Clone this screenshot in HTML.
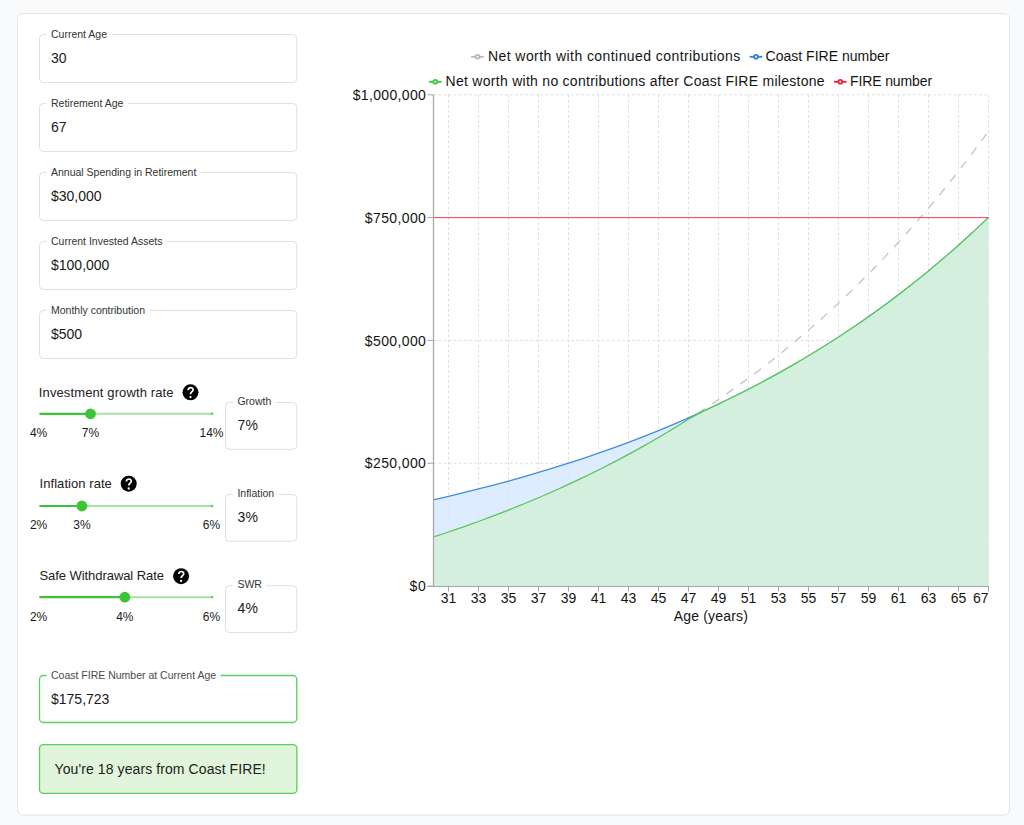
<!DOCTYPE html><html><head><meta charset="utf-8"><style>html,body{margin:0;padding:0;background:#f8fafc;width:1024px;height:825px;overflow:hidden}svg{display:block;font-family:"Liberation Sans",sans-serif}</style></head><body>
<svg width="1024" height="825" viewBox="0 0 1024 825">
<rect x="17.5" y="13.5" width="992" height="801.5" rx="5" fill="#fff" stroke="#e4e4e4"/>
<rect x="39.5" y="34.5" width="257.3" height="48.0" rx="4" fill="#fff" stroke="#dfdfdf"/>
<rect x="46.5" y="32.5" width="65.0296875" height="4" fill="#fff"/>
<text x="51.0" y="37.7" font-size="10.5" fill="#333">Current Age</text>
<text x="51.0" y="62.6" font-size="14" fill="#1a1a1a">30</text>
<rect x="39.5" y="103.5" width="257.3" height="48.0" rx="4" fill="#fff" stroke="#dfdfdf"/>
<rect x="46.5" y="101.5" width="81.36875" height="4" fill="#fff"/>
<text x="51.0" y="106.7" font-size="10.5" fill="#333">Retirement Age</text>
<text x="51.0" y="131.6" font-size="14" fill="#1a1a1a">67</text>
<rect x="39.5" y="172.5" width="257.3" height="48.0" rx="4" fill="#fff" stroke="#dfdfdf"/>
<rect x="46.5" y="170.5" width="154.3359375" height="4" fill="#fff"/>
<text x="51.0" y="175.7" font-size="10.5" fill="#333">Annual Spending in Retirement</text>
<text x="51.0" y="200.6" font-size="14" fill="#1a1a1a">$30,000</text>
<rect x="39.5" y="241.5" width="257.3" height="48.0" rx="4" fill="#fff" stroke="#dfdfdf"/>
<rect x="46.5" y="239.5" width="120.465625" height="4" fill="#fff"/>
<text x="51.0" y="244.7" font-size="10.5" fill="#333">Current Invested Assets</text>
<text x="51.0" y="269.6" font-size="14" fill="#1a1a1a">$100,000</text>
<rect x="39.5" y="310.5" width="257.3" height="48.0" rx="4" fill="#fff" stroke="#dfdfdf"/>
<rect x="46.5" y="308.5" width="102.9625" height="4" fill="#fff"/>
<text x="51.0" y="313.7" font-size="10.5" fill="#333">Monthly contribution</text>
<text x="51.0" y="338.6" font-size="14" fill="#1a1a1a">$500</text>
<text x="38.8" y="396.6" font-size="13" fill="#222" textLength="134.73" lengthAdjust="spacing">Investment growth rate</text>
<circle cx="190.5" cy="392.3" r="8" fill="#000"/>
<path d="M188.20,390.20 C188.20,386.80 193.10,386.80 193.10,389.90 C193.10,391.70 190.50,391.80 190.50,394.20" fill="none" stroke="#fff" stroke-width="1.7"/>
<circle cx="190.5" cy="397.10" r="1.15" fill="#fff"/>
<line x1="90.47999999999999" y1="413.8" x2="211.1" y2="413.8" stroke="#a6e3a6" stroke-width="1.9"/>
<line x1="40.2" y1="413.8" x2="90.47999999999999" y2="413.8" stroke="#3ac436" stroke-width="2.2" stroke-linecap="round"/>
<rect x="210.79999999999998" y="412.7" width="2.4" height="2.2" fill="#5fcf5f"/>
<circle cx="90.48" cy="413.8" r="5.4" fill="#3ac436"/>
<text x="38.6" y="436.5" font-size="12" fill="#1a1a1a" text-anchor="middle">4%</text>
<text x="90.48" y="436.5" font-size="12" fill="#1a1a1a" text-anchor="middle">7%</text>
<text x="211.5" y="436.5" font-size="12" fill="#1a1a1a" text-anchor="middle">14%</text>
<rect x="225.5" y="402.5" width="71.30000000000001" height="46.80000000000001" rx="4" fill="#fff" stroke="#dfdfdf"/>
<rect x="232.9" y="400.5" width="42.8421875" height="4" fill="#fff"/>
<text x="237.4" y="405.1" font-size="10.5" fill="#333">Growth</text>
<text x="237.6" y="430.1" font-size="14" fill="#1a1a1a">7%</text>
<text x="39.5" y="487.7" font-size="13" fill="#222" textLength="72.35" lengthAdjust="spacing">Inflation rate</text>
<circle cx="128.7" cy="483.7" r="8" fill="#000"/>
<path d="M126.40,481.60 C126.40,478.20 131.30,478.20 131.30,481.30 C131.30,483.10 128.70,483.20 128.70,485.60" fill="none" stroke="#fff" stroke-width="1.7"/>
<circle cx="128.7" cy="488.50" r="1.15" fill="#fff"/>
<line x1="81.9" y1="506.0" x2="211.1" y2="506.0" stroke="#a6e3a6" stroke-width="1.9"/>
<line x1="40.2" y1="506.0" x2="81.9" y2="506.0" stroke="#3ac436" stroke-width="2.2" stroke-linecap="round"/>
<rect x="210.79999999999998" y="504.9" width="2.4" height="2.2" fill="#5fcf5f"/>
<circle cx="81.90" cy="506.0" r="5.4" fill="#3ac436"/>
<text x="38.6" y="529.1" font-size="12" fill="#1a1a1a" text-anchor="middle">2%</text>
<text x="81.9" y="529.1" font-size="12" fill="#1a1a1a" text-anchor="middle">3%</text>
<text x="211.5" y="529.1" font-size="12" fill="#1a1a1a" text-anchor="middle">6%</text>
<rect x="225.5" y="494.5" width="71.30000000000001" height="46.799999999999955" rx="4" fill="#fff" stroke="#dfdfdf"/>
<rect x="232.9" y="492.5" width="45.7734375" height="4" fill="#fff"/>
<text x="237.4" y="497.1" font-size="10.5" fill="#333">Inflation</text>
<text x="237.6" y="522.1" font-size="14" fill="#1a1a1a">3%</text>
<text x="39.5" y="579.7" font-size="13" fill="#222" textLength="124.52" lengthAdjust="spacing">Safe Withdrawal Rate</text>
<circle cx="181.1" cy="576.2" r="8" fill="#000"/>
<path d="M178.80,574.10 C178.80,570.70 183.70,570.70 183.70,573.80 C183.70,575.60 181.10,575.70 181.10,578.10" fill="none" stroke="#fff" stroke-width="1.7"/>
<circle cx="181.1" cy="581.00" r="1.15" fill="#fff"/>
<line x1="124.8" y1="597.2" x2="211.1" y2="597.2" stroke="#a6e3a6" stroke-width="1.9"/>
<line x1="40.2" y1="597.2" x2="124.8" y2="597.2" stroke="#3ac436" stroke-width="2.2" stroke-linecap="round"/>
<rect x="210.79999999999998" y="596.1" width="2.4" height="2.2" fill="#5fcf5f"/>
<circle cx="124.80" cy="597.2" r="5.4" fill="#3ac436"/>
<text x="38.6" y="620.5" font-size="12" fill="#1a1a1a" text-anchor="middle">2%</text>
<text x="124.8" y="620.5" font-size="12" fill="#1a1a1a" text-anchor="middle">4%</text>
<text x="211.5" y="620.5" font-size="12" fill="#1a1a1a" text-anchor="middle">6%</text>
<rect x="225.5" y="585.7" width="71.30000000000001" height="46.799999999999955" rx="4" fill="#fff" stroke="#dfdfdf"/>
<rect x="232.9" y="583.7" width="33.496875" height="4" fill="#fff"/>
<text x="237.4" y="588.3" font-size="10.5" fill="#333">SWR</text>
<text x="237.6" y="613.3" font-size="14" fill="#1a1a1a">4%</text>
<rect x="39.5" y="675.5" width="257.3" height="47.0" rx="4" fill="#fff" stroke="#5ccf5c" stroke-width="1.35"/>
<rect x="46.5" y="673.5" width="174.14375" height="4" fill="#fff"/>
<text x="51.0" y="678.8" font-size="10.5" fill="#4a4a4a">Coast FIRE Number at Current Age</text>
<text x="51.0" y="703.5" font-size="14" fill="#1a1a1a">$175,723</text>
<rect x="39.5" y="744.6" width="257.4" height="48.8" rx="4" fill="#e0f5dc" stroke="#5ccf5c" stroke-width="1.35"/>
<text x="54.5" y="774.2" font-size="14" fill="#222" textLength="211.25" lengthAdjust="spacing">You're 18 years from Coast FIRE!</text>
<line x1="433.5" y1="94.80" x2="988.5" y2="94.80" stroke="#dcdcdc" stroke-dasharray="2.55 2.55"/>
<line x1="433.5" y1="217.63" x2="988.5" y2="217.63" stroke="#dcdcdc" stroke-dasharray="2.55 2.55"/>
<line x1="433.5" y1="340.45" x2="988.5" y2="340.45" stroke="#dcdcdc" stroke-dasharray="2.55 2.55"/>
<line x1="433.5" y1="463.28" x2="988.5" y2="463.28" stroke="#dcdcdc" stroke-dasharray="2.55 2.55"/>
<line x1="448.5" y1="94.80" x2="448.5" y2="586.1" stroke="#dcdcdc" stroke-dasharray="2.55 2.55"/>
<line x1="478.5" y1="94.80" x2="478.5" y2="586.1" stroke="#dcdcdc" stroke-dasharray="2.55 2.55"/>
<line x1="508.5" y1="94.80" x2="508.5" y2="586.1" stroke="#dcdcdc" stroke-dasharray="2.55 2.55"/>
<line x1="538.5" y1="94.80" x2="538.5" y2="586.1" stroke="#dcdcdc" stroke-dasharray="2.55 2.55"/>
<line x1="568.5" y1="94.80" x2="568.5" y2="586.1" stroke="#dcdcdc" stroke-dasharray="2.55 2.55"/>
<line x1="598.5" y1="94.80" x2="598.5" y2="586.1" stroke="#dcdcdc" stroke-dasharray="2.55 2.55"/>
<line x1="628.5" y1="94.80" x2="628.5" y2="586.1" stroke="#dcdcdc" stroke-dasharray="2.55 2.55"/>
<line x1="658.5" y1="94.80" x2="658.5" y2="586.1" stroke="#dcdcdc" stroke-dasharray="2.55 2.55"/>
<line x1="688.5" y1="94.80" x2="688.5" y2="586.1" stroke="#dcdcdc" stroke-dasharray="2.55 2.55"/>
<line x1="718.5" y1="94.80" x2="718.5" y2="586.1" stroke="#dcdcdc" stroke-dasharray="2.55 2.55"/>
<line x1="748.5" y1="94.80" x2="748.5" y2="586.1" stroke="#dcdcdc" stroke-dasharray="2.55 2.55"/>
<line x1="778.5" y1="94.80" x2="778.5" y2="586.1" stroke="#dcdcdc" stroke-dasharray="2.55 2.55"/>
<line x1="808.5" y1="94.80" x2="808.5" y2="586.1" stroke="#dcdcdc" stroke-dasharray="2.55 2.55"/>
<line x1="838.5" y1="94.80" x2="838.5" y2="586.1" stroke="#dcdcdc" stroke-dasharray="2.55 2.55"/>
<line x1="868.5" y1="94.80" x2="868.5" y2="586.1" stroke="#dcdcdc" stroke-dasharray="2.55 2.55"/>
<line x1="898.5" y1="94.80" x2="898.5" y2="586.1" stroke="#dcdcdc" stroke-dasharray="2.55 2.55"/>
<line x1="928.5" y1="94.80" x2="928.5" y2="586.1" stroke="#dcdcdc" stroke-dasharray="2.55 2.55"/>
<line x1="958.5" y1="94.80" x2="958.5" y2="586.1" stroke="#dcdcdc" stroke-dasharray="2.55 2.55"/>
<line x1="988.5" y1="94.80" x2="988.5" y2="586.1" stroke="#dcdcdc" stroke-dasharray="2.55 2.55"/>
<path d="M433.50,499.77 C438.50,498.63 443.50,497.49 448.50,496.31 C453.50,495.14 458.50,493.94 463.50,492.72 C468.50,491.50 473.50,490.26 478.50,488.99 C483.50,487.72 488.50,486.42 493.50,485.10 C498.50,483.78 503.50,482.44 508.50,481.06 C513.50,479.69 518.50,478.29 523.50,476.86 C528.50,475.43 533.50,473.98 538.50,472.49 C543.50,471.01 548.50,469.49 553.50,467.95 C558.50,466.40 563.50,464.83 568.50,463.22 C573.50,461.62 578.50,459.98 583.50,458.31 C588.50,456.64 593.50,454.93 598.50,453.20 C603.50,451.46 608.50,449.69 613.50,447.88 C618.50,446.07 623.50,444.23 628.50,442.35 C633.50,440.47 638.50,438.55 643.50,436.60 C648.50,434.64 653.50,432.65 658.50,430.62 C663.50,428.59 668.50,426.52 673.50,424.40 C678.50,422.29 683.50,420.13 688.50,417.93 C693.50,415.73 698.50,413.49 703.50,411.21 C708.50,408.92 713.50,406.59 718.50,404.21 C723.50,401.83 728.50,399.41 733.50,396.93 C738.50,394.46 743.50,391.94 748.50,389.37 C753.50,386.80 758.50,384.17 763.50,381.50 C768.50,378.82 773.50,376.10 778.50,373.31 C783.50,370.53 788.50,367.70 793.50,364.80 C798.50,361.91 803.50,358.96 808.50,355.95 C813.50,352.94 818.50,349.88 823.50,346.75 C828.50,343.62 833.50,340.43 838.50,337.17 C843.50,333.92 848.50,330.60 853.50,327.21 C858.50,323.83 863.50,320.38 868.50,316.86 C873.50,313.34 878.50,309.75 883.50,306.09 C888.50,302.43 893.50,298.70 898.50,294.89 C903.50,291.08 908.50,287.20 913.50,283.24 C918.50,279.28 923.50,275.24 928.50,271.13 C933.50,267.01 938.50,262.81 943.50,258.53 C948.50,254.24 953.50,249.88 958.50,245.42 C963.50,240.97 968.50,236.43 973.50,231.80 C978.50,227.16 983.50,222.39 988.50,217.63 L988.50,586.10 L433.50,586.10 Z" fill="#d4e7fe" fill-opacity="0.8" stroke="none"/>
<path d="M433.50,536.97 C438.50,535.33 443.50,533.69 448.50,532.00 C453.50,530.31 458.50,528.59 463.50,526.84 C468.50,525.08 473.50,523.29 478.50,521.47 C483.50,519.64 488.50,517.78 493.50,515.88 C498.50,513.98 503.50,512.04 508.50,510.07 C513.50,508.09 518.50,506.08 523.50,504.03 C528.50,501.97 533.50,499.88 538.50,497.74 C543.50,495.61 548.50,493.43 553.50,491.21 C558.50,488.98 563.50,486.72 568.50,484.41 C573.50,482.10 578.50,479.74 583.50,477.34 C588.50,474.94 593.50,472.49 598.50,469.99 C603.50,467.49 608.50,464.94 613.50,462.34 C618.50,459.74 623.50,457.09 628.50,454.39 C633.50,451.69 638.50,448.93 643.50,446.12 C648.50,443.31 653.50,440.44 658.50,437.52 C663.50,434.60 668.50,431.62 673.50,428.57 C678.50,425.53 683.50,422.44 688.50,419.27 C693.50,416.11 698.50,412.89 703.50,409.60 C708.50,406.31 713.50,402.96 718.50,399.54 C723.50,396.12 728.50,392.63 733.50,389.07 C738.50,385.51 743.50,381.89 748.50,378.19 C753.50,374.49 758.50,370.72 763.50,366.87 C768.50,363.02 773.50,359.10 778.50,355.10 C783.50,351.10 788.50,347.02 793.50,342.86 C798.50,338.70 803.50,334.46 808.50,330.13 C813.50,325.80 818.50,321.39 823.50,316.89 C828.50,312.39 833.50,307.80 838.50,303.12 C843.50,298.44 848.50,293.67 853.50,288.80 C858.50,283.93 863.50,278.97 868.50,273.90 C873.50,268.84 878.50,263.68 883.50,258.42 C888.50,253.15 893.50,247.78 898.50,242.31 C903.50,236.83 908.50,231.25 913.50,225.55 C918.50,219.86 923.50,214.05 928.50,208.13 C933.50,202.21 938.50,196.17 943.50,190.01 C948.50,183.85 953.50,177.57 958.50,171.16 C963.50,164.76 968.50,158.23 973.50,151.57 C978.50,144.90 983.50,138.04 988.50,131.18" fill="none" stroke="#c4c4c4" stroke-width="1.3" stroke-dasharray="8.6 8.6" stroke-dashoffset="-0.3"/>
<path d="M433.50,499.77 C438.50,498.63 443.50,497.49 448.50,496.31 C453.50,495.14 458.50,493.94 463.50,492.72 C468.50,491.50 473.50,490.26 478.50,488.99 C483.50,487.72 488.50,486.42 493.50,485.10 C498.50,483.78 503.50,482.44 508.50,481.06 C513.50,479.69 518.50,478.29 523.50,476.86 C528.50,475.43 533.50,473.98 538.50,472.49 C543.50,471.01 548.50,469.49 553.50,467.95 C558.50,466.40 563.50,464.83 568.50,463.22 C573.50,461.62 578.50,459.98 583.50,458.31 C588.50,456.64 593.50,454.93 598.50,453.20 C603.50,451.46 608.50,449.69 613.50,447.88 C618.50,446.07 623.50,444.23 628.50,442.35 C633.50,440.47 638.50,438.55 643.50,436.60 C648.50,434.64 653.50,432.65 658.50,430.62 C663.50,428.59 668.50,426.52 673.50,424.40 C678.50,422.29 683.50,420.13 688.50,417.93 C693.50,415.73 698.50,413.49 703.50,411.21 C708.50,408.92 713.50,406.59 718.50,404.21 C723.50,401.83 728.50,399.41 733.50,396.93 C738.50,394.46 743.50,391.94 748.50,389.37 C753.50,386.80 758.50,384.17 763.50,381.50 C768.50,378.82 773.50,376.10 778.50,373.31 C783.50,370.53 788.50,367.70 793.50,364.80 C798.50,361.91 803.50,358.96 808.50,355.95 C813.50,352.94 818.50,349.88 823.50,346.75 C828.50,343.62 833.50,340.43 838.50,337.17 C843.50,333.92 848.50,330.60 853.50,327.21 C858.50,323.83 863.50,320.38 868.50,316.86 C873.50,313.34 878.50,309.75 883.50,306.09 C888.50,302.43 893.50,298.70 898.50,294.89 C903.50,291.08 908.50,287.20 913.50,283.24 C918.50,279.28 923.50,275.24 928.50,271.13 C933.50,267.01 938.50,262.81 943.50,258.53 C948.50,254.24 953.50,249.88 958.50,245.42 C963.50,240.97 968.50,236.43 973.50,231.80 C978.50,227.16 983.50,222.39 988.50,217.63" fill="none" stroke="#3f8ce0" stroke-width="1.3"/>
<path d="M433.50,536.97 C438.50,535.33 443.50,533.69 448.50,532.00 C453.50,530.31 458.50,528.59 463.50,526.84 C468.50,525.08 473.50,523.29 478.50,521.47 C483.50,519.64 488.50,517.78 493.50,515.88 C498.50,513.98 503.50,512.04 508.50,510.07 C513.50,508.09 518.50,506.08 523.50,504.03 C528.50,501.97 533.50,499.88 538.50,497.74 C543.50,495.61 548.50,493.43 553.50,491.21 C558.50,488.98 563.50,486.72 568.50,484.41 C573.50,482.10 578.50,479.74 583.50,477.34 C588.50,474.94 593.50,472.49 598.50,469.99 C603.50,467.49 608.50,464.94 613.50,462.34 C618.50,459.74 623.50,457.09 628.50,454.39 C633.50,451.69 638.50,448.93 643.50,446.12 C648.50,443.31 653.50,440.44 658.50,437.52 C663.50,434.60 668.50,431.62 673.50,428.57 C678.50,425.53 683.50,422.19 688.50,419.27 C693.50,416.36 698.50,413.62 703.50,411.08 C708.50,408.55 713.50,406.46 718.50,404.08 C723.50,401.70 728.50,399.28 733.50,396.80 C738.50,394.33 743.50,391.81 748.50,389.23 C753.50,386.66 758.50,384.03 763.50,381.36 C768.50,378.68 773.50,375.95 778.50,373.17 C783.50,370.38 788.50,367.54 793.50,364.65 C798.50,361.75 803.50,358.80 808.50,355.79 C813.50,352.78 818.50,349.71 823.50,346.58 C828.50,343.45 833.50,340.26 838.50,337.00 C843.50,333.74 848.50,330.42 853.50,327.03 C858.50,323.65 863.50,320.19 868.50,316.67 C873.50,313.15 878.50,309.56 883.50,305.89 C888.50,302.23 893.50,298.50 898.50,294.69 C903.50,290.87 908.50,286.99 913.50,283.03 C918.50,279.07 923.50,275.03 928.50,270.91 C933.50,266.78 938.50,262.58 943.50,258.30 C948.50,254.01 953.50,249.64 958.50,245.19 C963.50,240.73 968.50,236.19 973.50,231.55 C978.50,226.91 983.50,222.14 988.50,217.37 L988.50,586.10 L433.50,586.10 Z" fill="#d3f0d7" fill-opacity="0.8" stroke="none"/>
<path d="M433.50,536.97 C438.50,535.33 443.50,533.69 448.50,532.00 C453.50,530.31 458.50,528.59 463.50,526.84 C468.50,525.08 473.50,523.29 478.50,521.47 C483.50,519.64 488.50,517.78 493.50,515.88 C498.50,513.98 503.50,512.04 508.50,510.07 C513.50,508.09 518.50,506.08 523.50,504.03 C528.50,501.97 533.50,499.88 538.50,497.74 C543.50,495.61 548.50,493.43 553.50,491.21 C558.50,488.98 563.50,486.72 568.50,484.41 C573.50,482.10 578.50,479.74 583.50,477.34 C588.50,474.94 593.50,472.49 598.50,469.99 C603.50,467.49 608.50,464.94 613.50,462.34 C618.50,459.74 623.50,457.09 628.50,454.39 C633.50,451.69 638.50,448.93 643.50,446.12 C648.50,443.31 653.50,440.44 658.50,437.52 C663.50,434.60 668.50,431.62 673.50,428.57 C678.50,425.53 683.50,422.19 688.50,419.27 C693.50,416.36 698.50,413.62 703.50,411.08 C708.50,408.55 713.50,406.46 718.50,404.08 C723.50,401.70 728.50,399.28 733.50,396.80 C738.50,394.33 743.50,391.81 748.50,389.23 C753.50,386.66 758.50,384.03 763.50,381.36 C768.50,378.68 773.50,375.95 778.50,373.17 C783.50,370.38 788.50,367.54 793.50,364.65 C798.50,361.75 803.50,358.80 808.50,355.79 C813.50,352.78 818.50,349.71 823.50,346.58 C828.50,343.45 833.50,340.26 838.50,337.00 C843.50,333.74 848.50,330.42 853.50,327.03 C858.50,323.65 863.50,320.19 868.50,316.67 C873.50,313.15 878.50,309.56 883.50,305.89 C888.50,302.23 893.50,298.50 898.50,294.69 C903.50,290.87 908.50,286.99 913.50,283.03 C918.50,279.07 923.50,275.03 928.50,270.91 C933.50,266.78 938.50,262.58 943.50,258.30 C948.50,254.01 953.50,249.64 958.50,245.19 C963.50,240.73 968.50,236.19 973.50,231.55 C978.50,226.91 983.50,222.14 988.50,217.37" fill="none" stroke="#55cc55" stroke-width="1.25"/>
<line x1="433.5" y1="217.63" x2="988.5" y2="217.63" stroke="#f43c58" stroke-width="1"/>
<line x1="433.5" y1="94.80" x2="433.5" y2="586.1" stroke="#a6a6a6" stroke-width="1.25"/>
<line x1="427.5" y1="586.5" x2="989.0" y2="586.5" stroke="#a6a6a6"/>
<line x1="427.5" y1="94.80" x2="433.5" y2="94.80" stroke="#a6a6a6"/>
<text x="352.65" y="99.9" font-size="14" fill="#141414" textLength="73.22" lengthAdjust="spacing">$1,000,000</text>
<line x1="427.5" y1="217.63" x2="433.5" y2="217.63" stroke="#a6a6a6"/>
<text x="364.87" y="222.73" font-size="14" fill="#141414" textLength="61.02" lengthAdjust="spacing">$750,000</text>
<line x1="427.5" y1="340.45" x2="433.5" y2="340.45" stroke="#a6a6a6"/>
<text x="364.87" y="345.55" font-size="14" fill="#141414" textLength="61.02" lengthAdjust="spacing">$500,000</text>
<line x1="427.5" y1="463.28" x2="433.5" y2="463.28" stroke="#a6a6a6"/>
<text x="364.87" y="468.38" font-size="14" fill="#141414" textLength="61.02" lengthAdjust="spacing">$250,000</text>
<line x1="427.5" y1="586.10" x2="433.5" y2="586.10" stroke="#a6a6a6"/>
<text x="409.6" y="591.2" font-size="14" fill="#141414" textLength="16.27" lengthAdjust="spacing">$0</text>
<line x1="448.5" y1="586.5" x2="448.5" y2="591.5" stroke="#a6a6a6"/>
<text x="448.5" y="602.7" font-size="14" fill="#141414" text-anchor="middle">31</text>
<line x1="478.5" y1="586.5" x2="478.5" y2="591.5" stroke="#a6a6a6"/>
<text x="478.5" y="602.7" font-size="14" fill="#141414" text-anchor="middle">33</text>
<line x1="508.5" y1="586.5" x2="508.5" y2="591.5" stroke="#a6a6a6"/>
<text x="508.5" y="602.7" font-size="14" fill="#141414" text-anchor="middle">35</text>
<line x1="538.5" y1="586.5" x2="538.5" y2="591.5" stroke="#a6a6a6"/>
<text x="538.5" y="602.7" font-size="14" fill="#141414" text-anchor="middle">37</text>
<line x1="568.5" y1="586.5" x2="568.5" y2="591.5" stroke="#a6a6a6"/>
<text x="568.5" y="602.7" font-size="14" fill="#141414" text-anchor="middle">39</text>
<line x1="598.5" y1="586.5" x2="598.5" y2="591.5" stroke="#a6a6a6"/>
<text x="598.5" y="602.7" font-size="14" fill="#141414" text-anchor="middle">41</text>
<line x1="628.5" y1="586.5" x2="628.5" y2="591.5" stroke="#a6a6a6"/>
<text x="628.5" y="602.7" font-size="14" fill="#141414" text-anchor="middle">43</text>
<line x1="658.5" y1="586.5" x2="658.5" y2="591.5" stroke="#a6a6a6"/>
<text x="658.5" y="602.7" font-size="14" fill="#141414" text-anchor="middle">45</text>
<line x1="688.5" y1="586.5" x2="688.5" y2="591.5" stroke="#a6a6a6"/>
<text x="688.5" y="602.7" font-size="14" fill="#141414" text-anchor="middle">47</text>
<line x1="718.5" y1="586.5" x2="718.5" y2="591.5" stroke="#a6a6a6"/>
<text x="718.5" y="602.7" font-size="14" fill="#141414" text-anchor="middle">49</text>
<line x1="748.5" y1="586.5" x2="748.5" y2="591.5" stroke="#a6a6a6"/>
<text x="748.5" y="602.7" font-size="14" fill="#141414" text-anchor="middle">51</text>
<line x1="778.5" y1="586.5" x2="778.5" y2="591.5" stroke="#a6a6a6"/>
<text x="778.5" y="602.7" font-size="14" fill="#141414" text-anchor="middle">53</text>
<line x1="808.5" y1="586.5" x2="808.5" y2="591.5" stroke="#a6a6a6"/>
<text x="808.5" y="602.7" font-size="14" fill="#141414" text-anchor="middle">55</text>
<line x1="838.5" y1="586.5" x2="838.5" y2="591.5" stroke="#a6a6a6"/>
<text x="838.5" y="602.7" font-size="14" fill="#141414" text-anchor="middle">57</text>
<line x1="868.5" y1="586.5" x2="868.5" y2="591.5" stroke="#a6a6a6"/>
<text x="868.5" y="602.7" font-size="14" fill="#141414" text-anchor="middle">59</text>
<line x1="898.5" y1="586.5" x2="898.5" y2="591.5" stroke="#a6a6a6"/>
<text x="898.5" y="602.7" font-size="14" fill="#141414" text-anchor="middle">61</text>
<line x1="928.5" y1="586.5" x2="928.5" y2="591.5" stroke="#a6a6a6"/>
<text x="928.5" y="602.7" font-size="14" fill="#141414" text-anchor="middle">63</text>
<line x1="958.5" y1="586.5" x2="958.5" y2="591.5" stroke="#a6a6a6"/>
<text x="958.5" y="602.7" font-size="14" fill="#141414" text-anchor="middle">65</text>
<line x1="988.5" y1="586.5" x2="988.5" y2="591.5" stroke="#a6a6a6"/>
<text x="988.5" y="602.7" font-size="14" fill="#141414" text-anchor="end">67</text>
<text x="673.7" y="620.6" font-size="14" fill="#141414" textLength="74.16" lengthAdjust="spacing">Age (years)</text>
<line x1="471.2" y1="56.8" x2="483.8" y2="56.8" stroke="#b8b8b8" stroke-width="1.8"/>
<circle cx="477.5" cy="56.8" r="1.9" fill="#fff" stroke="#b8b8b8" stroke-width="1.8"/>
<text x="488.0" y="61" font-size="14" fill="#141414" textLength="252.27" lengthAdjust="spacing">Net worth with continued contributions</text>
<line x1="749.7" y1="56.8" x2="762.3" y2="56.8" stroke="#2f80d8" stroke-width="1.8"/>
<circle cx="756" cy="56.8" r="1.9" fill="#fff" stroke="#2f80d8" stroke-width="1.8"/>
<text x="765.6" y="61" font-size="14" fill="#141414" textLength="123.81" lengthAdjust="spacing">Coast FIRE number</text>
<line x1="429.0" y1="81.8" x2="441.6" y2="81.8" stroke="#3cc63c" stroke-width="1.8"/>
<circle cx="435.3" cy="81.8" r="1.9" fill="#fff" stroke="#3cc63c" stroke-width="1.8"/>
<text x="445.6" y="85.7" font-size="14" fill="#141414" textLength="379.07" lengthAdjust="spacing">Net worth with no contributions after Coast FIRE milestone</text>
<line x1="834.0" y1="81.8" x2="846.5999999999999" y2="81.8" stroke="#ea1f3d" stroke-width="1.8"/>
<circle cx="840.3" cy="81.8" r="1.9" fill="#fff" stroke="#ea1f3d" stroke-width="1.8"/>
<text x="850.0" y="85.7" font-size="14" fill="#141414" textLength="82.05" lengthAdjust="spacing">FIRE number</text>
</svg></body></html>
